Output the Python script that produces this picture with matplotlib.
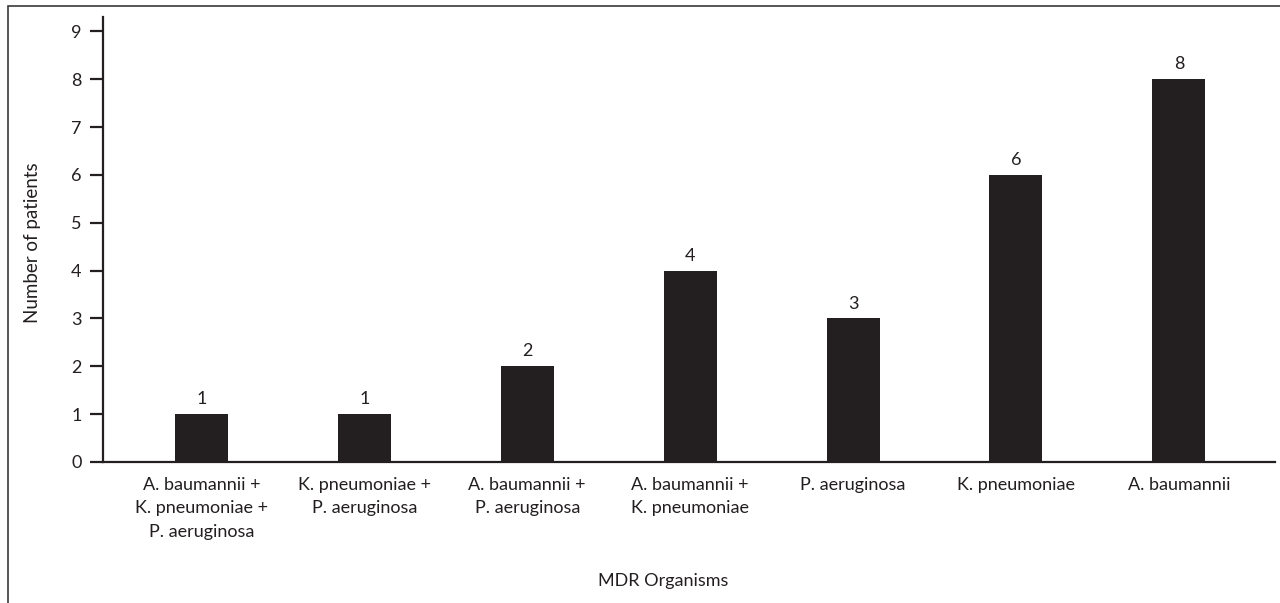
import matplotlib
matplotlib.use("Agg")
import matplotlib.pyplot as plt
from matplotlib.patches import Rectangle

categories = [
    "A. baumannii +\nK. pneumoniae +\nP. aeruginosa",
    "K. pneumoniae +\nP. aeruginosa",
    "A. baumannii +\nP. aeruginosa",
    "A. baumannii +\nK. pneumoniae",
    "P. aeruginosa",
    "K. pneumoniae",
    "A. baumannii",
]
values = [1, 1, 2, 4, 3, 6, 8]
yticks = list(range(0, 10))

plt.rcParams['font.family'] = ['Lato', 'DejaVu Sans']
dark = "#231f20"

W, H = 1280, 603
fig = plt.figure(figsize=(W / 100, H / 100), dpi=100)
fig.patch.set_facecolor("white")

# figure border
fig.patches.append(Rectangle((8 / W, -0.05), 1.2, 1 - 6 / H + 0.05, transform=fig.transFigure,
                             fill=False, edgecolor="#3a3a3a", linewidth=1.2))

ax = fig.add_axes([103 / W, 1 - 462 / H, (1275 - 103) / W, (462 - 17) / H])
x = list(range(len(categories)))
ax.bar(x, values, width=0.325, color=dark)
for xi, v in zip(x, values):
    ax.annotate(str(v), (xi, v), xytext=(0, 5), textcoords="offset points",
                ha="center", va="bottom", fontsize=13, color=dark)

ax.set_xlim(-0.604, 6.59)
ax.set_ylim(0, 9.3)
ax.set_yticks(yticks)
ax.set_xticks(x)
ax.set_xticklabels(categories, fontsize=13, color=dark, linespacing=1.55)
ax.tick_params(axis="x", length=0, pad=11)
ax.tick_params(axis="y", length=9.5, width=1.6, color=dark, labelsize=13, labelcolor=dark, pad=6)
for s in ["top", "right"]:
    ax.spines[s].set_visible(False)
for s in ["left", "bottom"]:
    ax.spines[s].set_linewidth(1.6)
    ax.spines[s].set_color(dark)

fig.text(33 / W, 1 - 243 / H, "Number of patients", rotation=90, ha="center", va="center",
         fontsize=13.5, color=dark)
fig.text(663 / W, 1 - 581 / H, "MDR Organisms", ha="center", va="center", fontsize=13, color=dark)

fig.savefig("out.png", dpi=100)
